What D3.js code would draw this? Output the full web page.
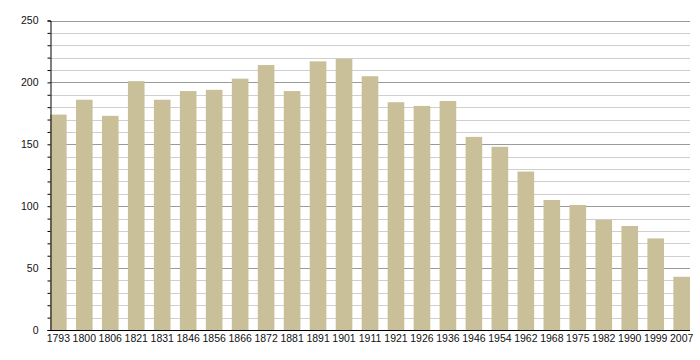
<!DOCTYPE html>
<html>
<head>
<meta charset="utf-8">
<script src="https://cdn.jsdelivr.net/npm/d3@7"></script>
<style>
body { margin: 0; background: #fff; }
svg { display: block; }
text { font-family: "Liberation Sans", Arial, sans-serif; font-size: 10.5px; fill: #111; }
</style>
</head>
<body>
<svg id="chart" width="700" height="360"></svg>
<script>
const years = ["1793","1800","1806","1821","1831","1846","1856","1866","1872","1881","1891","1901","1911","1921","1926","1936","1946","1954","1962","1968","1975","1982","1990","1999","2007"];
const population = [174,186,173,201,186,193,194,203,214,193,217,219,205,184,181,185,156,148,128,105,101,89,84,74,43];
const yTicks = [0,50,100,150,200,250];

(function () {
const svg = d3.select("#chart");
const mLeft = 50, mRight = 690, mTop = 20.5, mBottom = 330;

const x = d3.scaleBand().domain(years).range([mLeft, mRight]).paddingInner(0.36).paddingOuter(0);
const y = d3.scaleLinear().domain([0, 250]).range([mBottom, mTop]);

const minor = d3.range(10, 251, 10).filter(v => v % 50 !== 0);
svg.append("g").selectAll("line").data(minor).join("line")
  .attr("x1", mLeft).attr("x2", mRight)
  .attr("y1", d => Math.round(y(d)) + 0.5).attr("y2", d => Math.round(y(d)) + 0.5)
  .attr("stroke", "#cfcfcf").attr("stroke-width", 1);
svg.append("g").selectAll("line").data(yTicks.filter(v => v > 0)).join("line")
  .attr("x1", mLeft).attr("x2", mRight)
  .attr("y1", d => Math.round(y(d)) + 0.5).attr("y2", d => Math.round(y(d)) + 0.5)
  .attr("stroke", "#9a9a9a").attr("stroke-width", 1);

svg.append("g").selectAll("rect").data(years).join("rect")
  .attr("x", d => x(d))
  .attr("width", x.bandwidth())
  .attr("y", (d, i) => y(population[i]))
  .attr("height", (d, i) => mBottom - y(population[i]))
  .attr("fill", "#c9c099");

const yAxis = d3.axisLeft(y).tickValues(d3.range(0, 251, 10)).tickSize(3)
  .tickFormat(d => yTicks.includes(d) ? d : "");
const gy = svg.append("g").attr("transform", `translate(${mLeft + 0.5},0)`).call(yAxis);
gy.select(".domain").attr("stroke", "#000");
gy.selectAll(".tick line").attr("stroke", "#000");
gy.selectAll(".tick text").attr("x", -12).attr("font-size", null).attr("font-family", null).attr("fill", "#111");

const xAxis = d3.axisBottom(x).tickSize(0).tickPadding(4);
const gx = svg.append("g").attr("transform", `translate(0,${mBottom + 0.5})`).call(xAxis);
gx.select(".domain").attr("stroke", "#000").attr("d", `M${mLeft},0H${mRight}`);
gx.selectAll(".tick text").attr("font-size", null).attr("font-family", null).attr("fill", "#111");
})();
</script>
</body>
</html>
